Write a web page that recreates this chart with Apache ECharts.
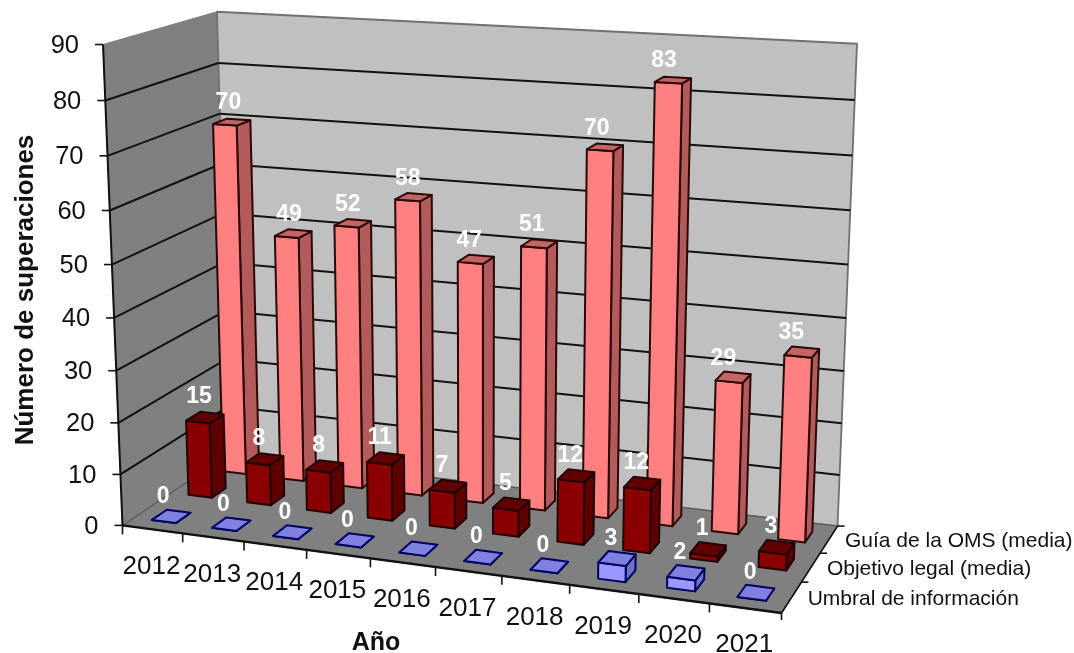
<!DOCTYPE html>
<html><head><meta charset="utf-8">
<style>html,body{margin:0;padding:0;background:#fff}#c{width:1074px;height:653px}</style>
<script src="https://cdn.jsdelivr.net/npm/echarts@6/dist/echarts.min.js"></script>
</head><body><div id="c"></div>
<script>
const years = ['2012','2013','2014','2015','2016','2017','2018','2019','2020','2021'];
const umbral = [0,0,0,0,0,0,0,3,2,0];
const objetivo = [15,8,8,11,7,5,12,12,1,3];
const guia = [70,49,52,58,47,51,70,83,29,35];
const yTicks = [0,10,20,30,40,50,60,70,80,90];
const depthNames = ['Umbral de información','Objetivo legal (media)','Guía de la OMS (media)'];

// View: where the corners of the 3D box land on the page -> [u, depth, height, x, y]
const view = [[0,0,0,123,525],[1,0,0,781,614],[0,1,0,229,454],[1,1,0,838,525],
              [0,0,1,103,44],[0,1,1,217,12],[1,1,1,857,44]];
function solveCamera(){
  const A=[],b=[];
  view.forEach(([u,d,h,x,y])=>{
    A.push([u,d,h,1,0,0,0,0,-x*u,-x*d,-x*h]); b.push(x);
    A.push([0,0,0,0,u,d,h,1,-y*u,-y*d,-y*h]); b.push(y);
  });
  const n=11,M=[];
  for(let i=0;i<n;i++){M.push(new Array(n+1).fill(0));
    for(let j=0;j<n;j++)for(let k=0;k<A.length;k++)M[i][j]+=A[k][i]*A[k][j];
    for(let k=0;k<A.length;k++)M[i][n]+=A[k][i]*b[k];}
  for(let i=0;i<n;i++){let p=i;for(let r=i+1;r<n;r++)if(Math.abs(M[r][i])>Math.abs(M[p][i]))p=r;
    [M[i],M[p]]=[M[p],M[i]];
    for(let r=0;r<n;r++)if(r!==i){const f=M[r][i]/M[i][i];for(let c=i;c<=n;c++)M[r][c]-=f*M[i][c];}}
  return M.map((r,i)=>r[n]/r[i]);
}
const P=solveCamera();
function project(u,d,h){
  const w=P[8]*u+P[9]*d+P[10]*h+1;
  return [(P[0]*u+P[1]*d+P[2]*h+P[3])/w,(P[4]*u+P[5]*d+P[6]*h+P[7])/w];
}
const G={left:100,top:50,width:700,height:500};
const toUH=(pt)=>[(pt[0]-G.left)/G.width,(G.top+G.height-pt[1])/G.height];
const FONT='"Liberation Sans", Arial, sans-serif';
const BAR=0.4;
const rows=3;
const labelShift=[[-8.3,2.7,-20],[-6,0,-20.5],[-3,-8,-19]];

function poly(pts,fill,stroke,lw){
  return {type:'polygon',shape:{points:pts},style:{fill:fill,stroke:stroke,lineWidth:lw,lineJoin:'round'}};
}
function line(a,b,stroke,lw){
  return {type:'line',shape:{x1:a[0],y1:a[1],x2:b[0],y2:b[1]},style:{stroke:stroke,lineWidth:lw,fill:null}};
}
function text(s,x,y,font,fill,align,rot){
  const el={type:'text',x:x,y:y,rotation:rot||0,style:{text:s,x:0,y:0,font:font,fill:fill,align:align||'center',verticalAlign:'middle'}};
  return el;
}
function barSeries(name,values,row,c){
  return {type:'custom',name:name,z:3+(2-row),silent:true,clip:false,
    data:values.map((v,i)=>[i,v]),encode:{x:0,y:1},
    renderItem:function(params,api){
      const pt=api.coord([api.value(0),api.value(1)]);
      const [uc,h]=toUH(pt);
      const du=api.size([1,0])[0]/G.width*BAR/2;
      const d0=(row+0.5-BAR/2)/rows,d1=(row+0.5+BAR/2)/rows;
      const u0=uc-du,u1=uc+du;
      const p=(u,d,hh)=>project(u,d,hh);
      return {type:'group',children:[
        poly([p(u1,d0,0),p(u1,d1,0),p(u1,d1,h),p(u1,d0,h)],c.side,c.line,2),
        poly([p(u0,d0,0),p(u1,d0,0),p(u1,d0,h),p(u0,d0,h)],c.front,c.line,2),
        poly([p(u0,d0,h),p(u1,d0,h),p(u1,d1,h),p(u0,d1,h)],c.top,c.line,2)
      ]};
    }};
}
function labelSeries(name,values,row){
  return {type:'custom',name:name+' etiquetas',z:8,silent:true,clip:false,
    data:values.map((v,i)=>[i,v]),encode:{x:0,y:1},
    renderItem:function(params,api){
      const v=api.value(1);
      const [uc,h]=toUH(api.coord([api.value(0),v]));
      const q=project(uc,(row+0.5)/rows,h);
      const s=labelShift[row];
      return text(String(v),q[0]+s[0]+s[1]*uc,q[1]+s[2],'bold 23px '+FONT,'#ffffff');
    }};
}
const wallSeries={type:'custom',name:'paredes',z:1,silent:true,clip:false,
  data:yTicks.map((v,i)=>[0,v]),encode:{x:0,y:1},
  renderItem:function(params,api){
    const v=api.value(1);
    const h=toUH(api.coord([0,v]))[1];
    const children=[];
    if(params.dataIndex===0){
      children.push(poly([project(0,0,0),project(0,1,0),project(0,1,1),project(0,0,1)],'#808080','#808080',1));
      children.push(poly([project(0,1,0),project(1,1,0),project(1,1,1),project(0,1,1)],'#c0c0c0','#707070',1.8));
      children.push(poly([project(0,0,0),project(1,0,0),project(1,1,0),project(0,1,0)],'#808080','#5a5a5a',1.2));
    } else if(v<yTicks[yTicks.length-1]){
      children.push(line(project(0,0,h),project(0,1,h),'#111',2));
      children.push(line(project(0,1,h),project(1,1,h),'#111',2));
    }
    return {type:'group',children:children};
  }};
const axisSeries={type:'custom',name:'ejes',z:2,silent:true,clip:false,
  data:yTicks.map((v)=>[0,v]),encode:{x:0,y:1},
  renderItem:function(params,api){
    const v=api.value(1);
    const h=toUH(api.coord([0,v]))[1];
    const q=project(0,0,h);
    const ch=[line([q[0]-8,q[1]],q,'#111',1.6),
      text(String(v),q[0]-24,q[1]+1.5,'25.5px '+FONT,'#111','right')];
    if(params.dataIndex===0){
      ch.push(line(project(0,0,0),project(0,0,1),'#111',2));
      ch.push(line(project(0,0,0),project(1,0,0),'#111',2.4));
      ch.push(line(project(1,0,0),project(1,1,0),'#111',1.6));
    }
    return {type:'group',children:ch};
  }};
const xLabelSeries={type:'custom',name:'años',z:2,silent:true,clip:false,
  data:years.map((y,i)=>[i,0]),encode:{x:0,y:1},
  renderItem:function(params,api){
    const i=api.value(0);
    const uc=toUH(api.coord([i,0]))[0];
    const band=api.size([1,0])[0]/G.width;
    const a=project(uc-band/2,0,0);
    const q=project(uc,0,0);
    const ch=[line(a,[a[0],a[1]+9],'#111',1.6),text(years[i],q[0]-1,q[1]+37,'26px '+FONT,'#111')];
    if(i===years.length-1){const e=project(uc+band/2,0,0);ch.push(line(e,[e[0],e[1]+7],'#111',1.6));}
    return {type:'group',children:ch};
  }};
const depthSeries={type:'custom',name:'profundidad',z:2,silent:true,clip:false,
  data:depthNames.map((n,i)=>[0,i]),encode:{x:0,y:1},
  renderItem:function(params,api){
    const i=params.dataIndex;
    const e=project(1,(i+1)/rows,0), m=project(1,(i+0.5)/rows,0);
    return {type:'group',children:[line(e,[e[0]+7,e[1]],'#111',1.6),
      text(depthNames[i],m[0]+16,m[1]+2,'21px '+FONT,'#111','left')]};
  }};
const pink={front:'#ff8080',side:'#b35a5a',top:'#c46464',line:'#2a0808'};
const red={front:'#8a0000',side:'#5c0000',top:'#600000',line:'#220000'};
const blue={front:'#9999ff',side:'#7070c0',top:'#8080e0',line:'#000060'};

const chart=echarts.init(document.getElementById('c'));
chart.setOption({
  animation:false,backgroundColor:'#fff',
  grid:G,
  xAxis:{type:'category',data:years,show:false},
  yAxis:{type:'value',min:0,max:90,interval:10,show:false},
  graphic:[
    {type:'text',x:376,y:643,style:{text:'Año',font:'bold 25px '+FONT,fill:'#111',align:'center',verticalAlign:'middle'}},
    {type:'text',x:26,y:290,rotation:Math.PI/2,style:{text:'Número de superaciones',font:'bold 26px '+FONT,fill:'#111',align:'center',verticalAlign:'middle'}}
  ],
  series:[wallSeries,axisSeries,xLabelSeries,depthSeries,
    barSeries(depthNames[2],guia,2,pink),
    barSeries(depthNames[1],objetivo,1,red),
    barSeries(depthNames[0],umbral,0,blue),
    labelSeries(depthNames[2],guia,2),
    labelSeries(depthNames[1],objetivo,1),
    labelSeries(depthNames[0],umbral,0)]
});
</script></body></html>
